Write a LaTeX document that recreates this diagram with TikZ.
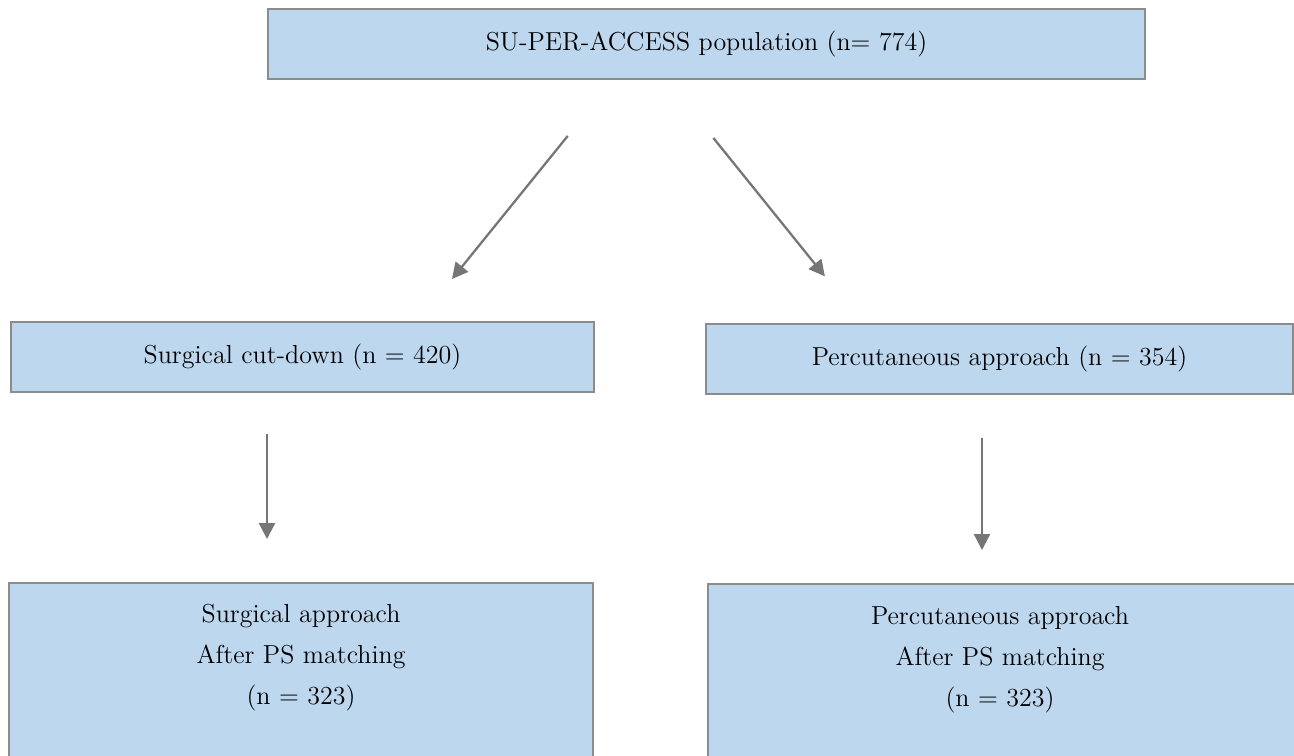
\documentclass[tikz,border=0pt]{standalone}
\usepackage{tikz}
\usetikzlibrary{arrows.meta,positioning,calc}
\definecolor{boxfill}{HTML}{BDD7EE}
\definecolor{boxline}{HTML}{8C8C8C}
\definecolor{arrowgrey}{HTML}{767676}
\tikzset{
  box/.style={draw=boxline, fill=boxfill, line width=1.1pt, align=center,
              inner sep=0pt, minimum height=1.4cm, font=\fontsize{14.8}{23.3}\selectfont},
  flow/.style={-{Triangle[length=3.2mm, width=3.2mm]}, line width=1.3pt, arrowgrey},
  txt/.style={align=center, font=\fontsize{14.8}{23.3}\selectfont},
}
\begin{document}
\begin{tikzpicture}[x=0.02cm, y=-0.02cm]
  \useasboundingbox (0,0) rectangle (1294,755);
  % boxes
  \node[box, minimum width=17.54cm] (pop) at (706.5,44) {SU-PER-ACCESS population (n= 774)};
  \node[box, minimum width=11.66cm] (surg) at (302.5,357) {Surgical cut-down (n = 420)};
  \node[box, minimum width=11.74cm] (perc) at (999.5,359) {Percutaneous approach (n = 354)};
  \node[box, minimum width=11.68cm, minimum height=3.96cm, anchor=north] (surgPS) at (301,582) {};
  \node[box, minimum width=12.04cm, minimum height=3.96cm, anchor=north] (percPS) at (1009,583) {};
  \node[txt] (surgPStxt) at (301,658) {Surgical approach\\After PS matching\\(n = 323)};
  \node[txt] (percPStxt) at (1000,660) {Percutaneous approach\\After PS matching\\(n = 323)};
  % arrows
  \draw[flow, shorten <=1.44cm, shorten >=1.08cm] (613,0 |- pop.south) -- (418,0 |- surg.north);
  \draw[flow, shorten <=1.49cm, shorten >=1.2cm] (666.6,0 |- pop.south) -- (862.6,0 |- perc.north);
  \draw[flow, shorten <=0.82cm, shorten >=0.86cm] (267,0 |- surg.south) -- (267,0 |- surgPS.north);
  \draw[flow, shorten <=0.86cm, shorten >=0.66cm] (982,0 |- perc.south) -- (982,0 |- percPS.north);
\end{tikzpicture}
\end{document}
